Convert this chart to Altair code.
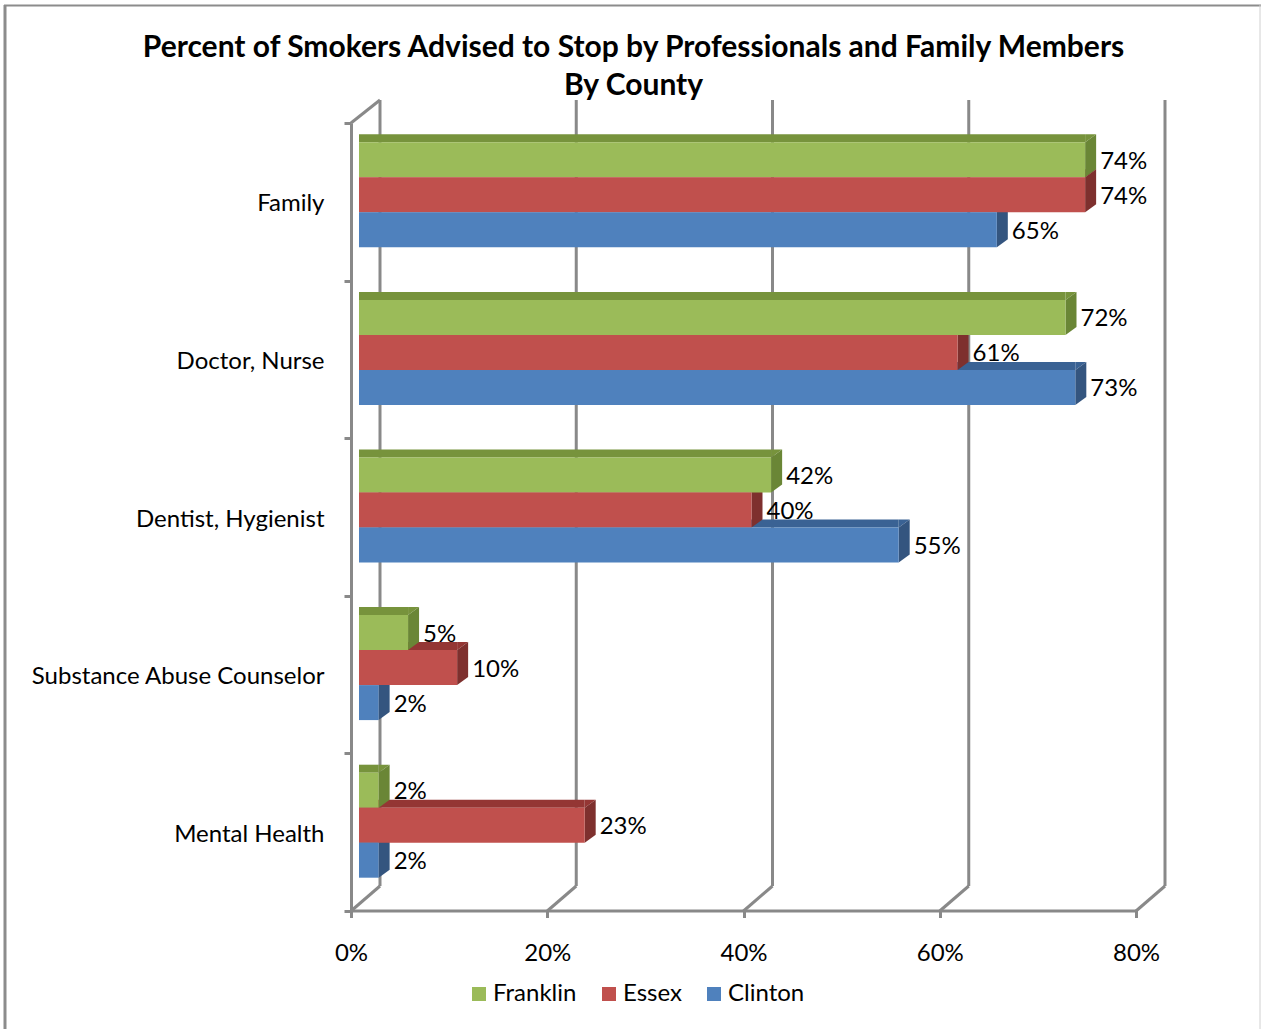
import altair as alt
import pandas as pd

# ---------------- data ----------------
categories = ["Family", "Doctor, Nurse", "Dentist, Hygienist",
              "Substance Abuse Counselor", "Mental Health"]
series = ["Franklin", "Essex", "Clinton"]
franklin = [0.74, 0.72, 0.42, 0.05, 0.02]
essex = [0.74, 0.61, 0.40, 0.10, 0.23]
clinton = [0.65, 0.73, 0.55, 0.02, 0.02]
x_ticks = [0.0, 0.2, 0.4, 0.6, 0.8]

# ---------------- styles ----------------
front_colors = ["#9BBB59", "#C0504D", "#4F81BD"]
top_colors = ["#77933C", "#943634", "#3A6294"]
side_colors = ["#6A8636", "#7E302E", "#34557F"]
slot_offsets = [-35, 0, 35]
FONT = "Lato"
FS = 24
GRID = "#898989"

rows = []
for s, vals in zip(series, [franklin, essex, clinton]):
    for c, v in zip(categories, vals):
        rows.append({"category": c, "series": s, "value": v})
df = pd.DataFrame(rows)
ticks_df = pd.DataFrame({"tick": x_ticks})
one_df = pd.DataFrame({"a": [0]})

x_scale = alt.Scale(domain=[0, 0.8], nice=False, zero=True)
x_axis = alt.Axis(format=".0%", values=x_ticks, grid=False, title=None,
                  domainColor=GRID, domainWidth=3, tickColor=GRID, tickWidth=3,
                  tickSize=7, labelFont=FONT, labelFontSize=FS, labelColor="black",
                  labelPadding=24, labelFlush=False, translate=-7.5, offset=14.5)


def X(field):
    return alt.X(f"{field}:Q", scale=x_scale, axis=x_axis)


y_enc = alt.Y("category:N", sort=categories,
              scale=alt.Scale(paddingInner=0, paddingOuter=0),
              axis=alt.Axis(title=None, tickBand="extent", domainColor=GRID,
                            domainWidth=3, tickColor=GRID, tickWidth=3, tickSize=7,
                            labelFont=FONT, labelFontSize=FS, labelColor="black",
                            labelPadding=20, labelOffset=2, translate=7.5, offset=15,
                            labelLimit=400))

layers = []

# back wall gridlines
layers.append(alt.Chart(ticks_df).mark_rule(color=GRID, strokeWidth=3, xOffset=21).encode(
    x=X("tick"), y=alt.value(-16), y2=alt.value(770)))
# floor diagonals
layers.append(alt.Chart(ticks_df).mark_rule(color=GRID, strokeWidth=3, xOffset=-8, x2Offset=21).encode(
    x=X("tick"), x2=alt.X2("tick"), y=alt.value(795), y2=alt.value(770)))
# top-left diagonal
layers.append(alt.Chart(ticks_df[ticks_df.tick == 0]).mark_rule(color=GRID, strokeWidth=3, xOffset=-8, x2Offset=21).encode(
    x=X("tick"), x2=alt.X2("tick"), y=alt.value(7), y2=alt.value(-16)))

side_path = "M0,-0.7L0.44,-1.02L0.44,0.38L0,0.7Z"
cap_path = "M0,-0.7L0,-1.02L0.44,-1.02Z"

# top faces
for s, k, tc in zip(series, slot_offsets, top_colors):
    sub = df[df.series == s]
    layers.append(alt.Chart(sub).mark_bar(height=8, yOffset=k - 21.5, color=tc).encode(
        x=X("value"), y=y_enc))
    layers.append(alt.Chart(sub).mark_point(shape=cap_path, size=2500, filled=True, opacity=1,
                                            strokeWidth=0, color=tc, yOffset=k).encode(
        x=X("value"), y=y_enc))
# side faces
for s, k, sc in zip(series, slot_offsets, side_colors):
    sub = df[df.series == s]
    layers.append(alt.Chart(sub).mark_point(shape=side_path, size=2500, filled=True, opacity=1,
                                            strokeWidth=0, color=sc, yOffset=k).encode(
        x=X("value"), y=y_enc))

legend = alt.Legend(orient="none", legendX=108, legendY=866, direction="horizontal",
                    title=None, symbolType="square", symbolSize=196, symbolStrokeWidth=0,
                    labelFont=FONT, labelFontSize=FS, labelColor="black", labelOffset=2,
                    columnPadding=20, padding=0)
color_enc = alt.Color("series:N", scale=alt.Scale(domain=series, range=front_colors),
                      legend=legend)
# front faces
for s, k in zip(series, slot_offsets):
    sub = df[df.series == s]
    layers.append(alt.Chart(sub).mark_bar(height=35, yOffset=k).encode(
        x=X("value"), y=y_enc, color=color_enc))
# labels
for s, k in zip(series, slot_offsets):
    sub = df[df.series == s]
    layers.append(alt.Chart(sub).mark_text(align="left", baseline="middle", dx=15, dy=2, yOffset=k,
                                           font=FONT, fontSize=FS, color="black").encode(
        x=X("value"), y=y_enc, text=alt.Text("value:Q", format=".0%")))

# outer frame
layers.append(alt.Chart(one_df).mark_rule(color="#8C8C8C", strokeWidth=3).encode(
    x=alt.value(-354), y=alt.value(-111), y2=alt.value(913)))
layers.append(alt.Chart(one_df).mark_rule(color="#8C8C8C", strokeWidth=2).encode(
    x=alt.value(-355), x2=alt.value(902), y=alt.value(-110.5)))
layers.append(alt.Chart(one_df).mark_rule(color="#D0D0D0", strokeWidth=1).encode(
    x=alt.value(901), y=alt.value(-111), y2=alt.value(913)))

chart = alt.layer(*layers).properties(
    width=785, height=788,
    title=alt.TitleParams(
        ["Percent of Smokers Advised to Stop by Professionals and Family Members", "By County"],
        font=FONT, fontSize=30, fontWeight="bold", color="black", anchor="middle",
        dx=-118, offset=-97, lineHeight=38),
    padding={"left": 359, "top": 116, "right": 117, "bottom": 125},
    autosize=alt.AutoSizeParams(type="none"),
).configure_view(stroke=None)

chart.save("out.html", embed_options={"renderer": "svg", "actions": False})
